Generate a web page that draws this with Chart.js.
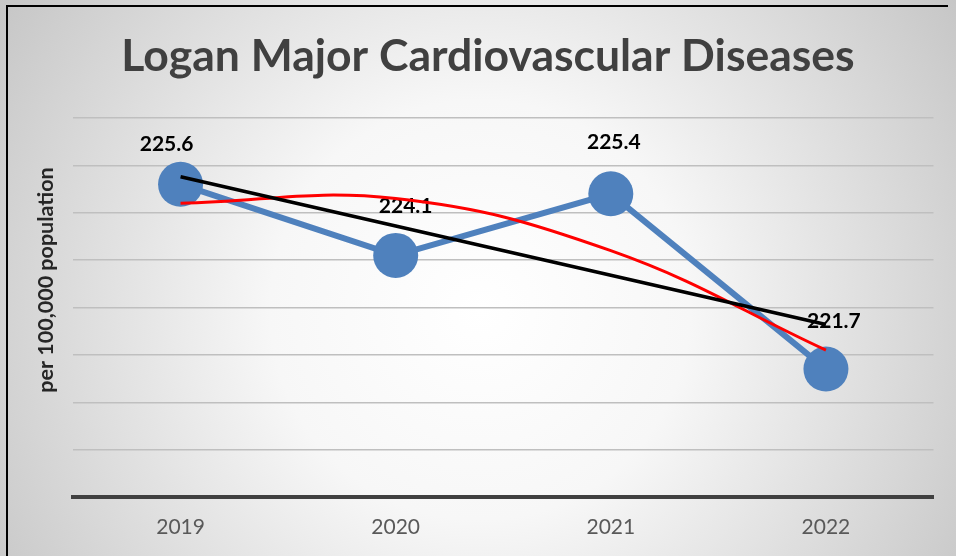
<!DOCTYPE html>
<html>
<head>
<meta charset="utf-8">
<script src="https://cdn.jsdelivr.net/npm/chart.js@4"></script>
<style>
  html, body { margin: 0; padding: 0; background: #ffffff; }
  #wrap { width: 956px; height: 556px; position: relative; }
  canvas { display: block; }
</style>
</head>
<body>
<div id="wrap"><canvas id="c" width="956" height="556"></canvas></div>
<script>
const categories = ['2019', '2020', '2021', '2022'];
const rates = [225.6, 224.1, 225.4, 221.7];
const linearTrend = [225.76, 224.72, 223.68, 222.64];
const polyTrend = [225.2, 225.3, 224.2, 222.1];
const chartTitle = 'Logan Major Cardiovascular Diseases';
const yAxisTitle = 'per 100,000 population';

const FONT = 'Lato, sans-serif';
const labelDx = [-14, 10, 3, 8];
const labelDy = [-40, -49, -52, -48];

const bgPlugin = {
  id: 'bg',
  beforeDraw(chart) {
    const ctx = chart.ctx;
    const w = chart.width, h = chart.height;
    ctx.save();
    const g = ctx.createRadialGradient(480, 310, 0, 480, 310, 600);
    g.addColorStop(0, '#ffffff');
    g.addColorStop(0.35, '#f7f7f7');
    g.addColorStop(1, '#c2c2c2');
    ctx.fillStyle = g;
    ctx.fillRect(0, 0, w, h);
    ctx.strokeStyle = '#000000';
    ctx.lineWidth = 2;
    ctx.beginPath();
    ctx.moveTo(7, h);
    ctx.lineTo(7, 6);
    ctx.lineTo(948, 6);
    ctx.stroke();
    ctx.restore();
  },
  afterDraw(chart) {
    const ctx = chart.ctx;
    ctx.save();
    ctx.font = 'bold 21.5px Lato';
    ctx.fillStyle = '#262626';
    ctx.textAlign = 'center';
    ctx.textBaseline = 'middle';
    ctx.translate(46, 280);
    ctx.rotate(-Math.PI / 2);
    ctx.fillText(yAxisTitle, 0, 0);
    ctx.restore();
  }
};

const labelPlugin = {
  id: 'labels',
  afterDatasetDraw(chart, args) {
    if (args.index !== 0) return;
    const ctx = chart.ctx;
    ctx.save();
    ctx.font = 'bold 21px Lato';
    ctx.fillStyle = '#000000';
    ctx.textAlign = 'center';
    ctx.textBaseline = 'middle';
    args.meta.data.forEach((pt, i) => {
      ctx.fillText(rates[i].toFixed(1), pt.x + labelDx[i], pt.y + labelDy[i]);
    });
    ctx.restore();
  }
};

new Chart(document.getElementById('c'), {
  type: 'line',
  data: {
    labels: categories,
    datasets: [
      {
        label: 'Rate',
        data: rates,
        borderColor: '#4f81bd',
        backgroundColor: '#4f81bd',
        borderWidth: 6,
        pointRadius: 22.5,
        pointHoverRadius: 22.5,
        pointBorderWidth: 0,
        tension: 0,
        order: 3
      },
      {
        label: 'Poly. trend',
        data: polyTrend,
        borderColor: '#ff0000',
        borderWidth: 3,
        pointRadius: 0,
        tension: 0.4,
        cubicInterpolationMode: 'default',
        order: 2
      },
      {
        label: 'Linear trend',
        data: linearTrend,
        borderColor: '#000000',
        borderWidth: 3.5,
        pointRadius: 0,
        tension: 0,
        order: 1
      }
    ]
  },
  options: {
    responsive: false,
    animation: false,
    layout: { padding: { left: 38, right: 18, top: 0, bottom: 0 } },
    plugins: {
      legend: { display: false },
      tooltip: { enabled: false },
      title: {
        display: true,
        text: chartTitle,
        color: '#404040',
        font: { family: FONT, size: 44.5, weight: 'bold', lineHeight: 1.2 },
        padding: { top: 30, bottom: 34.6 }
      }
    },
    scales: {
      x: {
        offset: true,
        grid: { display: false, drawTicks: false },
        border: { display: true, color: '#404040', width: 4 },
        ticks: { color: '#595959', font: { family: FONT, size: 21 }, padding: 18 },
        afterFit(scale) { scale.height = 59; }
      },
      y: {
        min: 219,
        max: 227,
        ticks: { display: false, stepSize: 1 },
        grid: { color: '#bfbfbf', lineWidth: 1.5, drawTicks: false },
        border: { display: false },
        afterFit(scale) { scale.width = 35; }
      }
    }
  },
  plugins: [bgPlugin, labelPlugin]
});
</script>
</body>
</html>
